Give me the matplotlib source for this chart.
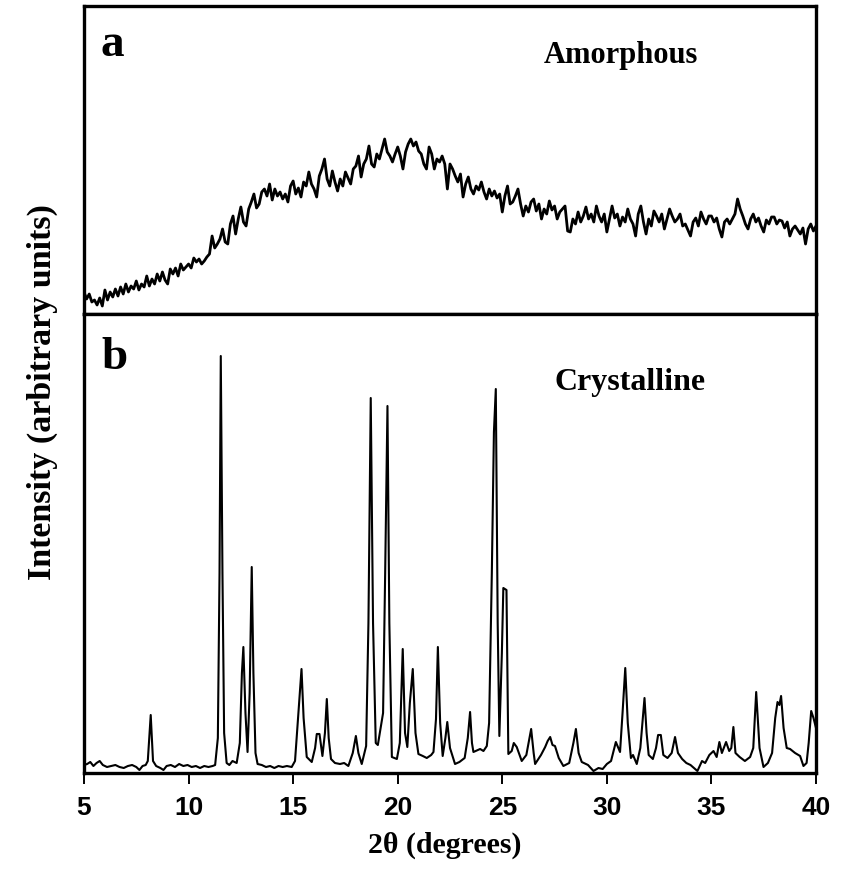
import numpy as np
import matplotlib
matplotlib.use("Agg")
import matplotlib.pyplot as plt

# ---------------- data ----------------
# (a) amorphous pattern, sampled every 0.125 deg from 5 to 40
amorph_x = np.arange(5.0, 40.0001, 0.125)
amorph_y = [
    22, 15, 20, 12, 14, 9, 16, 8,
    24, 14, 22, 17, 25, 18, 27, 20,
    30, 22, 28, 25, 33, 24, 30, 27,
    38, 28, 35, 30, 40, 33, 42, 34,
    30, 45, 40, 46, 38, 50, 44, 47,
    50, 46, 56, 52, 55, 50, 53, 57,
    60, 78, 66, 70, 75, 85, 72, 70,
    90, 98, 80, 95, 107, 92, 88, 105,
    112, 120, 106, 110, 122, 125, 118, 130,
    114, 125, 118, 122, 115, 120, 112, 128,
    133, 120, 126, 117, 132, 128, 142, 130,
    125, 117, 138, 145, 155, 135, 128, 143,
    132, 123, 135, 128, 142, 136, 130, 145,
    148, 158, 137, 150, 155, 168, 150, 147,
    160, 155, 165, 175, 162, 158, 152, 160,
    167, 158, 145, 162, 170, 175, 168, 172,
    163, 160, 150, 145, 167, 160, 145, 155,
    152, 158, 150, 125, 150, 145, 138, 132,
    140, 117, 130, 137, 125, 120, 128, 124,
    132, 122, 115, 125, 118, 123, 116, 120,
    102, 118, 128, 110, 112, 118, 125, 110,
    98, 108, 102, 112, 115, 103, 110, 95,
    105, 100, 113, 104, 108, 95, 102, 105,
    108, 83, 82, 95, 90, 102, 92, 98,
    107, 95, 100, 92, 108, 98, 92, 100,
    82, 95, 108, 96, 100, 88, 97, 92,
    105, 95, 90, 78, 100, 108, 92, 80,
    95, 88, 103, 98, 92, 100, 85, 95,
    105, 98, 92, 95, 100, 88, 90, 84,
    78, 92, 96, 88, 102, 95, 90, 98,
    98, 92, 96, 85, 77, 92, 95, 90,
    95, 100, 115, 105, 98, 90, 85, 95,
    100, 92, 96, 88, 82, 94, 90, 97,
    97, 90, 94, 93, 86, 92, 78, 85,
    88, 84, 80, 86, 70, 85, 90, 83,
    88,
]

# (b) crystalline pattern: measured vertices (2theta, intensity)
cryst_x = [
    5.0, 5.15, 5.3, 5.45, 5.6, 5.75, 5.9, 6.1, 6.3, 6.5, 6.7, 6.9, 7.1, 7.3,
    7.5, 7.65, 7.8, 7.95, 8.05, 8.19, 8.3, 8.45, 8.65, 8.8, 8.95, 9.15, 9.35,
    9.55, 9.75, 9.95, 10.15, 10.35, 10.55, 10.75, 10.95, 11.15, 11.27, 11.40,
    11.48, 11.54, 11.62, 11.70, 11.82, 11.95, 12.1, 12.3, 12.45, 12.55, 12.62,
    12.72, 12.82, 12.92, 13.02, 13.1, 13.2, 13.3, 13.5, 13.7, 13.9, 14.1, 14.3,
    14.5, 14.7, 14.93, 15.09, 15.25, 15.4, 15.5, 15.65, 15.89, 16.05, 16.13,
    16.26, 16.4, 16.52, 16.61, 16.7, 16.81, 17.0, 17.24, 17.44, 17.64, 17.85,
    18.0, 18.12, 18.28, 18.49, 18.6, 18.71, 18.82, 18.95, 19.05, 19.3, 19.4,
    19.51, 19.6, 19.72, 19.96, 20.1, 20.24, 20.35, 20.46, 20.58, 20.72, 20.85,
    20.99, 21.2, 21.39, 21.6, 21.71, 21.83, 21.92, 22.03, 22.15, 22.28, 22.37,
    22.5, 22.74, 22.95, 23.2, 23.35, 23.46, 23.55, 23.62, 23.94, 24.1, 24.26,
    24.37, 24.5, 24.6, 24.69, 24.78, 24.86, 24.98, 25.05, 25.2, 25.29, 25.45,
    25.55, 25.69, 25.93, 26.15, 26.38, 26.5, 26.57, 26.85, 27.05, 27.17, 27.29,
    27.4, 27.52, 27.7, 27.92, 28.2, 28.4, 28.52, 28.65, 28.8, 29.1, 29.36, 29.6,
    29.8, 30.0, 30.2, 30.43, 30.55, 30.63, 30.75, 30.88, 31.0, 31.15, 31.25,
    31.43, 31.6, 31.8, 31.9, 32.0, 32.2, 32.35, 32.45, 32.58, 32.7, 32.9, 33.1,
    33.26, 33.4, 33.6, 33.8, 34.0, 34.33, 34.55, 34.7, 34.9, 35.1, 35.25, 35.38,
    35.5, 35.7, 35.85, 35.95, 36.05, 36.15, 36.35, 36.6, 36.85, 37.0, 37.14,
    37.3, 37.49, 37.7, 37.9, 38.05, 38.16, 38.25, 38.33, 38.45, 38.6, 38.76,
    39.0, 39.24, 39.4, 39.55, 39.65, 39.77, 39.88, 40.0,
]
cryst_y = [
    8, 9, 11, 7, 10, 12, 8, 6, 7, 8, 6, 5, 7, 8,
    6, 3, 7, 8, 12, 58, 12, 7, 5, 3, 7, 8, 6,
    9, 7, 8, 6, 7, 5, 7, 6, 7, 8, 35,
    200, 417, 200, 40, 10, 8, 12, 10, 30, 100, 126,
    60, 21, 80, 206, 100, 20, 9, 8, 6, 7, 5, 7,
    6, 7, 6, 12, 60, 104, 55, 16, 11, 25, 39,
    39, 17, 40, 74, 35, 14, 10, 9, 10, 7, 20,
    37, 20, 9, 27, 150, 375, 150, 30, 28, 60, 200,
    367, 150, 16, 14, 30, 124, 40, 26, 70, 104, 40,
    19, 17, 15, 18, 21, 54, 126, 50, 17, 35, 51,
    25, 9, 11, 15, 35, 61, 30, 21, 24, 22, 27,
    50, 200, 341, 384, 150, 37, 120, 185, 183, 19, 22,
    30, 26, 12, 18, 44, 20, 9, 18, 26, 32, 36,
    28, 27, 15, 7, 10, 30, 44, 20, 11, 8, 2, 5,
    4, 9, 12, 31, 25, 21, 60, 105, 50, 15, 18,
    9, 25, 75, 40, 18, 14, 25, 38, 38, 18, 15, 20,
    36, 20, 14, 10, 8, 2, 12, 10, 18, 22, 16, 31,
    20, 31, 22, 25, 46, 20, 16, 12, 16, 25, 81,
    25, 6, 10, 20, 55, 71, 68, 77, 45, 25, 24,
    20, 17, 7, 10, 30, 62, 55, 45,
]

xticks = [5, 10, 15, 20, 25, 30, 35, 40]
x_label = "2θ (degrees)"
y_label = "Intensity (arbitrary units)"

# ---------------- figure ----------------
W, H = 851, 870
fig = plt.figure(figsize=(W / 100, H / 100), dpi=100)

L, R = 84 / W, 816 / W
ax_top = fig.add_axes([L, 1 - 315 / H, R - L, (315 - 7) / H])
ax_bot = fig.add_axes([L, 1 - 774 / H, R - L, (774 - 315) / H])

serif = ["Liberation Serif", "DejaVu Serif"]
sans = ["Liberation Sans", "DejaVu Sans"]

ax_top.plot(amorph_x, amorph_y, color="black", lw=2.0)
ax_bot.plot(cryst_x, cryst_y, color="black", lw=1.5)

for ax in (ax_top, ax_bot):
    ax.set_xlim(5, 40)
    for s in ax.spines.values():
        s.set_linewidth(2.4)
    ax.set_yticks([])

ax_top.set_ylim(0, 308)
ax_bot.set_ylim(0, 459)
ax_top.set_xticks([])

ax_bot.set_xticks(xticks)
ax_bot.tick_params(axis="x", direction="out", length=8, width=1.4, pad=8)
ax_bot.set_xticklabels([str(t) for t in xticks], fontfamily=sans,
                       fontweight="bold", fontsize=19)

ax_top.text(0.038, 0.877, "a", transform=ax_top.transAxes, ha="center",
            va="center", fontfamily=serif, fontweight="bold", fontsize=34)
ax_top.text(0.734, 0.844, "Amorphous", transform=ax_top.transAxes,
            ha="center", va="center", fontfamily=serif, fontweight="bold",
            fontsize=22)
ax_bot.text(0.042, 0.906, "b", transform=ax_bot.transAxes, ha="center",
            va="center", fontfamily=serif, fontweight="bold", fontsize=34)
ax_bot.text(0.746, 0.852, "Crystalline", transform=ax_bot.transAxes,
            ha="center", va="center", fontfamily=serif, fontweight="bold",
            fontsize=23)

fig.text(445 / W, 1 - 845 / H, x_label, ha="center", va="center",
         fontfamily=serif, fontweight="bold", fontsize=21.5)
fig.text(42 / W, 1 - 392 / H, y_label, ha="center", va="center",
         rotation=90, fontfamily=serif, fontweight="bold", fontsize=24.5)

fig.savefig("out.png", dpi=100)
